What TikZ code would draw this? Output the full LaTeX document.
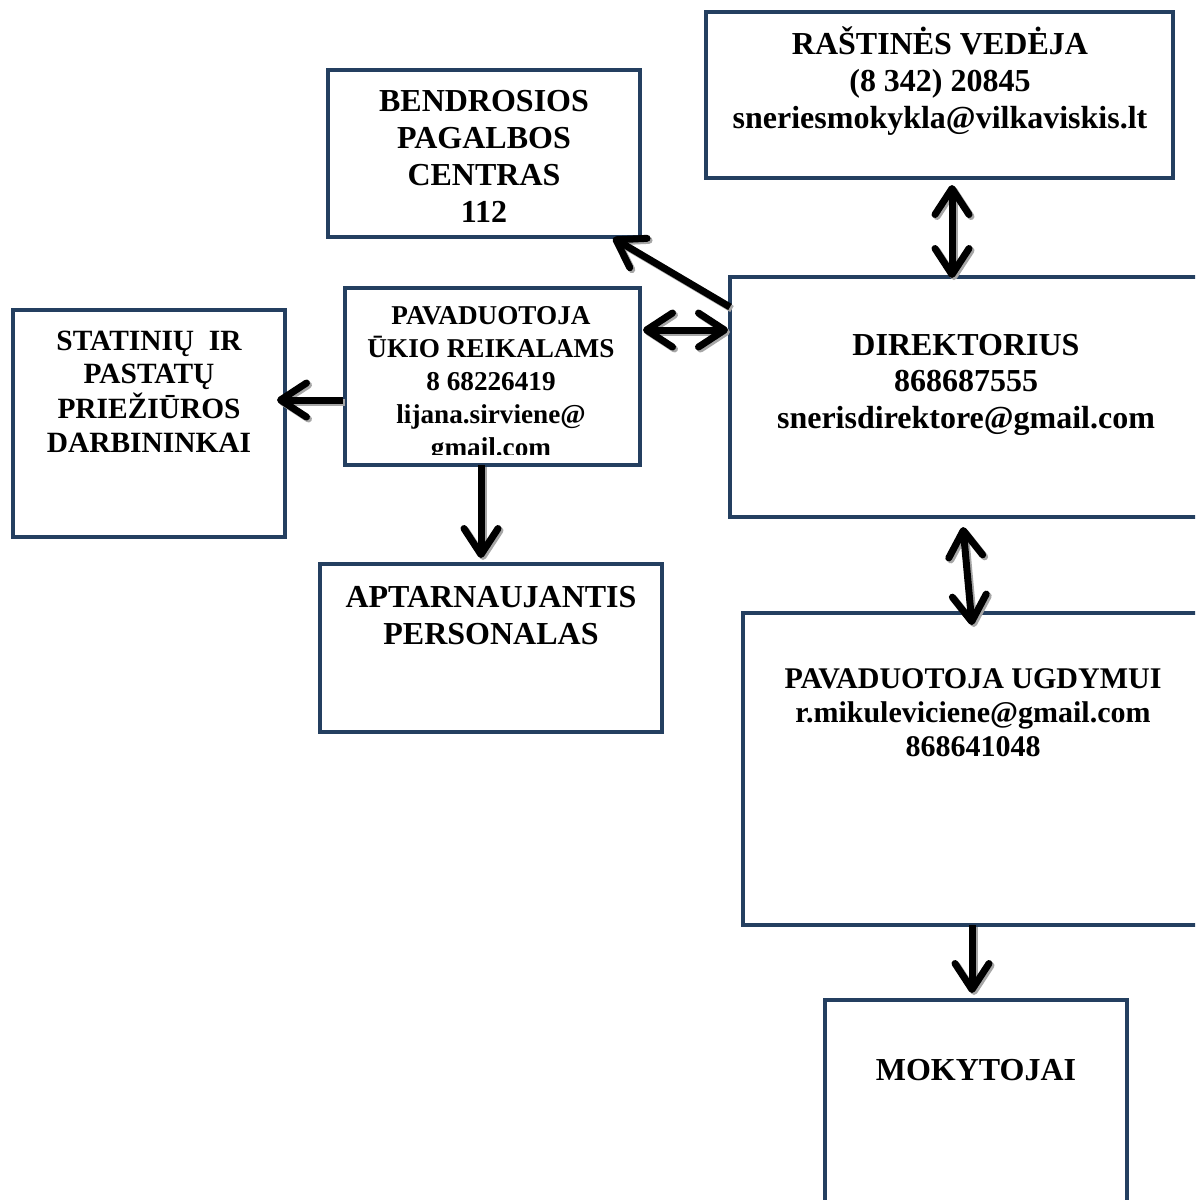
\documentclass[tikz,border=0pt]{standalone}
\usepackage{fontspec}
\setmainfont{Liberation Serif}
\usetikzlibrary{arrows.meta,calc}
\definecolor{boxblue}{HTML}{243F60}
\definecolor{shadowgray}{HTML}{A6A6A6}
\newcommand{\boxtext}[1]{\begin{tabular}[t]{@{}c@{}}#1\end{tabular}}
\tikzset{
  orgbox/.style={draw=boxblue, line width=2.25pt, inner sep=0pt, outer sep=0pt},
  orgtext/.style 2 args={anchor=base, inner sep=0pt, font=\fontsize{#1}{#2}\selectfont\bfseries},
  link/.style={draw, line width=3.5pt, #1,
    preaction={draw=shadowgray, line width=3.5pt, #1, transform canvas={shift={(1pt,-1pt)}}}},
  >={Straight Barb[length=13pt,width=17pt,round]}
}
\begin{document}
\begin{tikzpicture}[x=0.5pt,y=-0.5pt]
\useasboundingbox (0,0) rectangle (1195,1200);
\fill[white] (0,0) rectangle (1195,1200);
\clip (0,0) rectangle (1195,1200);

\node[orgbox, minimum width=233.5pt, minimum height=83pt] (rastine) at (939.5,95) {};
\node[orgbox, minimum width=156pt, minimum height=83.5pt] (centras) at (484,153.5) {};
\node[orgbox, minimum width=236pt, minimum height=120pt] (direktorius) at (966,397) {};
\node[orgbox, minimum width=147.5pt, minimum height=88.5pt] (ukio) at (492.5,376.5) {};
\node[orgbox, minimum width=136pt, minimum height=113.5pt] (statiniu) at (149,423.5) {};
\node[orgbox, minimum width=171pt, minimum height=84pt] (personalas) at (491,648) {};
\node[orgbox, minimum width=230pt, minimum height=156pt] (ugdymui) at (973,769) {};
\node[orgbox, minimum width=151pt, minimum height=110pt] (mokytojai) at (976,1110) {};

\node[orgtext={16}{18.5}] (rastine-txt) at (940,54) {\boxtext{RAŠTINĖS VEDĖJA\\(8 342) 20845\\sneriesmokykla@vilkaviskis.lt}};
\node[orgtext={16}{18.5}] (centras-txt) at (484,111) {\boxtext{BENDROSIOS\\PAGALBOS\\CENTRAS\\112}};
\node[orgtext={16}{18.25}] (direktorius-txt) at (966,355) {\boxtext{DIREKTORIUS\\868687555\\snerisdirektore@gmail.com}};
\begin{scope}
\clip (347,291) rectangle (638,454);
\node[orgtext={13.6}{16.5}] (ukio-txt) at (491,324) {\boxtext{PAVADUOTOJA\\ŪKIO REIKALAMS\\8 68226419\\lijana.sirviene@\\gmail.com}};
\end{scope}
\node[orgtext={14.7}{16.65}] (statiniu-txt) at (149,350) {\boxtext{STATINIŲ\ \ IR\\PASTATŲ\\PRIEŽIŪROS\\DARBININKAI}};
\node[orgtext={16}{18.5}] (personalas-txt) at (491,607) {\boxtext{APTARNAUJANTIS\\PERSONALAS}};
\node[orgtext={15}{17}] (ugdymui-txt) at (973,688) {\boxtext{PAVADUOTOJA UGDYMUI\\r.mikuleviciene@gmail.com\\868641048}};
\node[orgtext={16}{18.5}] (mokytojai-txt) at (976,1080) {\boxtext{MOKYTOJAI}};

\path[link=->] ($(direktorius.north west)+(0,30)$) -- ($(centras.south east)+(-27,1)$);
\path[link=<->] ($(ukio.east)+(3,-46.5)$) -- ($(direktorius.west)+(-2,-67)$);
\path[link=<->] ($(rastine.south)+(12.5,7)$) -- ($(direktorius.north)+(-14,1)$);
\path[link=->] ($(ukio.west)+(-2,23.5)$) -- ($(statiniu.east)+(-8,-23.5)$);
\path[link=->] ($(ukio.south)+(-11.5,0)$) -- ($(personalas.north)+(-10,-6)$);
\path[link=<->] ($(direktorius.south)+(-3,10)$) -- ($(ugdymui.north)+(-1,12)$);
\path[link=->] ($(ugdymui.south)+(-1,0)$) -- ($(mokytojai.north)+(-4,-7)$);
\end{tikzpicture}
\end{document}
